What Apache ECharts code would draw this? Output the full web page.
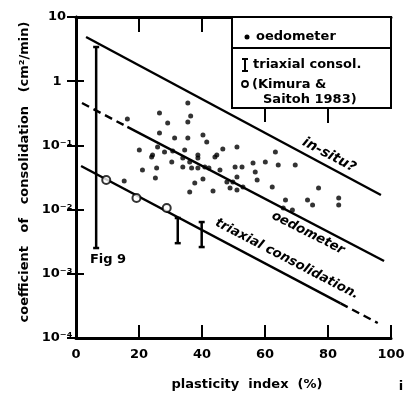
<!DOCTYPE html>
<html><head><meta charset="utf-8">
<script src="https://cdn.jsdelivr.net/npm/echarts@6/dist/echarts.min.js"></script>
<style>html,body{margin:0;padding:0;background:#fff}#c{width:414px;height:405px}</style>
</head><body><div id="c"></div>
<script>
// ---- data ----
var xTickValues = [0, 20, 40, 60, 80, 100];
var yTickLabels = { '10': '10', '1': '1', '0.1': '10⁻¹', '0.01': '10⁻²', '0.001': '10⁻³', '0.0001': '10⁻⁴' };

var oedoX = [16.3, 26.5, 29.1, 26.5, 31.3, 35.5, 36.4, 35.5, 35.5, 40.3, 41.5, 20.1, 24.3, 25.9, 28.1, 30.7,
  34.5, 38.7, 44.7, 46.6, 51.1, 63.3, 24.0, 30.4, 21.1, 25.6, 25.2, 15.3, 33.9, 36.1, 38.7, 44.1, 33.9, 36.7,
  38.7, 40.9, 42.2, 45.7, 50.5, 52.7, 56.2, 60.1, 56.9, 51.1, 57.5, 40.3, 47.9, 49.8, 37.7, 36.1, 43.5, 48.9,
  51.1, 53.0, 62.3, 64.2, 69.6, 77.0, 66.5, 73.5, 75.1, 83.4, 83.4, 65.8, 68.7];
var oedoY = [0.258, 0.320, 0.223, 0.156, 0.130, 0.457, 0.287, 0.231, 0.130, 0.145, 0.113, 0.0848, 0.0708, 0.0944,
  0.0789, 0.0818, 0.0848, 0.0708, 0.0708, 0.0879, 0.0944, 0.0789, 0.0659, 0.0551, 0.0414, 0.0445, 0.0311, 0.0279,
  0.0636, 0.0551, 0.0636, 0.0659, 0.0461, 0.0445, 0.0445, 0.0461, 0.0445, 0.0414, 0.0461, 0.0461, 0.0532, 0.0551,
  0.0385, 0.0322, 0.0289, 0.0300, 0.0269, 0.0269, 0.0259, 0.0188, 0.0195, 0.0217, 0.0202, 0.0225, 0.0225, 0.0495,
  0.0495, 0.0217, 0.0141, 0.0141, 0.0118, 0.0152, 0.0118, 0.0106, 0.00986];

var kimuraX = [9.6, 19.2, 28.8];
var kimuraY = [0.0289, 0.0152, 0.0106];

var triaxBarX = [6.4, 32.3, 39.9];
var triaxBarLow = [0.00252, 0.0030, 0.00261];
var triaxBarHigh = [3.41, 0.0074, 0.0064];

var insituLineX = [3.2, 96.8];
var insituLineY = [4.87, 0.0169];
var oedoLineDashX = [1.9, 16.3];
var oedoLineDashY = [0.457, 0.194];
var oedoLineX = [16.3, 97.8];
var oedoLineY = [0.194, 0.00158];
var triaxLineX = [1.6, 84.0];
var triaxLineY = [0.0478, 0.000346];
var triaxLineDashX = [84.0, 95.8];
var triaxLineDashY = [0.000346, 0.000171];

// ---- chart ----
function zip(a, b) { return a.map(function (v, i) { return [v, b[i]]; }); }
var FONT = 'DejaVu Sans';
var chart = echarts.init(document.getElementById('c'), null, { renderer: 'canvas' });

function lineSeries(xs, ys, dashed) {
  return {
    type: 'line', data: zip(xs, ys), symbol: 'none', silent: true, z: 3,
    lineStyle: { color: '#000', width: 2.4, type: dashed ? [8, 5] : 'solid' }
  };
}

var option = {
  animation: false,
  backgroundColor: '#fff',
  grid: { left: 76, right: 23, top: 17, bottom: 67, containLabel: false, outerBoundsMode: 'none' },
  xAxis: [{
    type: 'value', min: 0, max: 100, interval: 20, position: 'bottom',
    axisLine: { lineStyle: { color: '#000', width: 3 } },
    axisTick: { inside: true, length: 13, lineStyle: { color: '#000', width: 2 } },
    axisLabel: { color: '#000', fontFamily: FONT, fontWeight: 'bold', fontSize: 13, margin: 10 },
    splitLine: { show: false }
  }, {
    type: 'value', min: 0, max: 100, interval: 20, position: 'top',
    axisLine: { lineStyle: { color: '#000', width: 3 } },
    axisTick: { inside: true, length: 15, lineStyle: { color: '#000', width: 2 } },
    axisLabel: { show: false }, splitLine: { show: false }
  }],
  yAxis: [{
    type: 'log', logBase: 10, min: 0.0001, max: 10,
    axisLine: { lineStyle: { color: '#000', width: 3 } },
    axisTick: { inside: true, length: 8, lineStyle: { color: '#000', width: 2 } },
    axisLabel: {
      color: '#000', fontFamily: FONT, fontWeight: 'bold', fontSize: 13, margin: 19, align: 'center',
      formatter: function (v) { var k = String(+v.toPrecision(3)); return yTickLabels[k] !== undefined ? yTickLabels[k] : ''; }
    },
    minorTick: { show: false }, splitLine: { show: false }
  }, {
    type: 'log', logBase: 10, min: 0.0001, max: 10, position: 'right',
    axisLine: { lineStyle: { color: '#000', width: 2.5 } },
    axisTick: { inside: true, length: 9, lineStyle: { color: '#000', width: 2 } },
    axisLabel: { show: false }, splitLine: { show: false }
  }],
  series: [
    lineSeries(insituLineX, insituLineY, false),
    lineSeries(oedoLineDashX, oedoLineDashY, true),
    lineSeries(oedoLineX, oedoLineY, false),
    lineSeries(triaxLineX, triaxLineY, false),
    lineSeries(triaxLineDashX, triaxLineDashY, true),
    {
      type: 'scatter', data: zip(oedoX, oedoY), symbol: 'circle', symbolSize: 5, z: 4,
      itemStyle: { color: '#000' }
    },
    {
      type: 'scatter', data: zip(kimuraX, kimuraY), symbol: 'circle', symbolSize: 8, z: 5,
      itemStyle: { color: '#fff', borderColor: '#000', borderWidth: 2 }
    },
    {
      type: 'custom', z: 4,
      data: triaxBarX.map(function (x, i) { return [x, triaxBarLow[i], triaxBarHigh[i]]; }),
      encode: { x: 0, y: [1, 2] },
      renderItem: function (params, api) {
        var x = api.value(0);
        var p1 = api.coord([x, api.value(2)]);
        var p2 = api.coord([x, api.value(1)]);
        var c = 3, st = { stroke: '#000', lineWidth: 2.5 };
        return {
          type: 'group', children: [
            { type: 'line', shape: { x1: p1[0], y1: p1[1], x2: p2[0], y2: p2[1] }, style: st },
            { type: 'line', shape: { x1: p1[0] - c, y1: p1[1], x2: p1[0] + c, y2: p1[1] }, style: st },
            { type: 'line', shape: { x1: p2[0] - c, y1: p2[1], x2: p2[0] + c, y2: p2[1] }, style: st }
          ]
        };
      }
    }
  ]
};
chart.setOption(option);

// ---- annotations, legend box and axis names ----
var px60 = chart.convertToPixel({ xAxisIndex: 1 }, 60);
var px80 = chart.convertToPixel({ xAxisIndex: 1 }, 80);
function txt(x, y, s, opt) {
  opt = opt || {};
  return {
    type: 'text', x: x, y: y, rotation: opt.rot || 0, z: 200,
    style: {
      text: s, fill: '#000', font: (opt.italic ? 'italic ' : '') + 'bold ' + (opt.size || 13) + 'px "' + FONT + '"',
      align: opt.align || 'left', verticalAlign: 'middle'
    }
  };
}
var L = { stroke: '#000', lineWidth: 2 };
chart.setOption({
  graphic: [
    { type: 'rect', z: 150, shape: { x: 232, y: 17, width: 159, height: 91 }, style: { fill: '#fff', stroke: '#000', lineWidth: 2 } },
    { type: 'line', z: 151, shape: { x1: 232, y1: 48, x2: 391, y2: 48 }, style: L },
    { type: 'line', z: 151, shape: { x1: px60, y1: 108, x2: px60, y2: 122 }, style: L },
    { type: 'line', z: 151, shape: { x1: px80, y1: 108, x2: px80, y2: 123 }, style: L },
    { type: 'circle', z: 152, shape: { cx: 247, cy: 37, r: 2.5 }, style: { fill: '#000' } },
    txt(256, 37, 'oedometer'),
    { type: 'line', z: 152, shape: { x1: 245, y1: 59, x2: 245, y2: 71 }, style: L },
    { type: 'line', z: 152, shape: { x1: 242, y1: 59, x2: 248, y2: 59 }, style: L },
    { type: 'line', z: 152, shape: { x1: 242, y1: 71, x2: 248, y2: 71 }, style: L },
    txt(253, 65, 'triaxial consol.'),
    { type: 'circle', z: 152, shape: { cx: 245, cy: 84, r: 3 }, style: { fill: '#fff', stroke: '#000', lineWidth: 1.8 } },
    txt(252, 85, '(Kimura &'),
    txt(263, 100, 'Saitoh 1983)'),
    txt(329, 155, 'in-situ?', { rot: -0.49, italic: true, align: 'center', size: 14 }),
    txt(308, 233, 'oedometer', { rot: -0.47, italic: true, align: 'center' }),
    txt(287, 259, 'triaxial consolidation.', { rot: -0.48, italic: true, align: 'center' }),
    txt(108, 260, 'Fig 9', { align: 'center' }),
    txt(247, 385, 'plasticity  index  (%)', { align: 'center' }),
    txt(25, 172, 'coefficient   of   consolidation   (cm²/min)', { rot: Math.PI / 2, align: 'center' }),
    txt(401, 387, 'i', { align: 'center' })
  ]
});
</script>
</body></html>
